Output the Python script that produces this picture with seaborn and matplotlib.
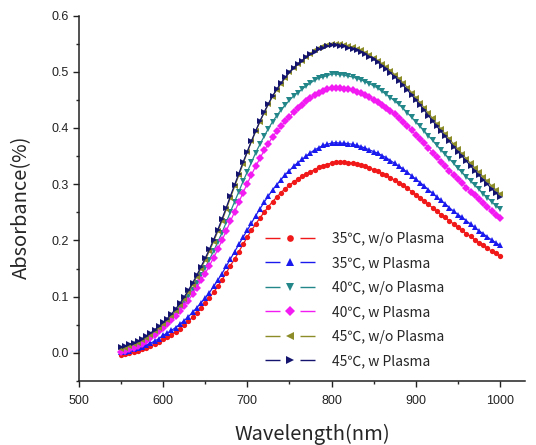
import numpy as np
import pandas as pd
import seaborn as sns
from matplotlib import pyplot as plt
from matplotlib.lines import Line2D
from matplotlib.ticker import MultipleLocator

# wavelength axis (nm), one reading every 5 nm
wavelength = list(range(550, 1001, 5))

abs_35_wo = [
    -0.003, -0.002, 0.000, 0.002, 0.004, 0.006, 0.009, 0.012, 0.015, 0.019,
    0.024, 0.028, 0.032, 0.037, 0.043, 0.050, 0.056, 0.063, 0.071, 0.080,
    0.088, 0.098, 0.108, 0.118, 0.130, 0.142, 0.155, 0.167, 0.180, 0.193,
    0.206, 0.218, 0.229, 0.240, 0.250, 0.260, 0.269, 0.277, 0.285, 0.292,
    0.298, 0.304, 0.309, 0.314, 0.318, 0.322, 0.326, 0.330, 0.333, 0.335,
    0.338, 0.339, 0.339, 0.339, 0.338, 0.338, 0.336, 0.334, 0.332, 0.329,
    0.326, 0.323, 0.319, 0.316, 0.311, 0.307, 0.303, 0.298, 0.293, 0.287,
    0.281, 0.276, 0.270, 0.264, 0.258, 0.252, 0.246, 0.241, 0.235, 0.229,
    0.223, 0.218, 0.212, 0.207, 0.201, 0.196, 0.191, 0.186, 0.181, 0.177,
    0.172]
abs_35_w = [
    0.001, 0.002, 0.004, 0.006, 0.008, 0.011, 0.014, 0.017, 0.021, 0.025,
    0.031, 0.035, 0.040, 0.045, 0.051, 0.057, 0.064, 0.072, 0.080, 0.089,
    0.097, 0.107, 0.118, 0.129, 0.141, 0.154, 0.167, 0.180, 0.193, 0.206,
    0.218, 0.231, 0.244, 0.256, 0.268, 0.279, 0.290, 0.299, 0.308, 0.317,
    0.324, 0.332, 0.338, 0.344, 0.350, 0.356, 0.361, 0.365, 0.369, 0.371,
    0.373, 0.374, 0.373, 0.373, 0.372, 0.371, 0.369, 0.367, 0.364, 0.361,
    0.358, 0.355, 0.351, 0.347, 0.342, 0.337, 0.332, 0.327, 0.321, 0.315,
    0.309, 0.303, 0.297, 0.290, 0.284, 0.277, 0.271, 0.265, 0.258, 0.252,
    0.246, 0.241, 0.235, 0.229, 0.223, 0.217, 0.212, 0.206, 0.201, 0.196,
    0.191]
abs_40_wo = [
    0.004, 0.006, 0.009, 0.012, 0.015, 0.019, 0.024, 0.029, 0.035, 0.041,
    0.049, 0.055, 0.062, 0.070, 0.079, 0.089, 0.100, 0.112, 0.124, 0.138,
    0.151, 0.166, 0.181, 0.197, 0.214, 0.232, 0.251, 0.269, 0.287, 0.305,
    0.322, 0.339, 0.356, 0.371, 0.385, 0.399, 0.411, 0.422, 0.432, 0.441,
    0.449, 0.457, 0.463, 0.469, 0.475, 0.480, 0.485, 0.489, 0.491, 0.493,
    0.496, 0.496, 0.495, 0.494, 0.492, 0.491, 0.488, 0.486, 0.482, 0.479,
    0.475, 0.471, 0.465, 0.460, 0.454, 0.448, 0.442, 0.435, 0.427, 0.419,
    0.411, 0.403, 0.395, 0.386, 0.378, 0.369, 0.361, 0.353, 0.345, 0.337,
    0.328, 0.321, 0.313, 0.306, 0.298, 0.291, 0.283, 0.276, 0.269, 0.262,
    0.255]
abs_40_w = [
    0.001, 0.003, 0.006, 0.009, 0.012, 0.016, 0.021, 0.026, 0.032, 0.038,
    0.045, 0.051, 0.058, 0.066, 0.074, 0.083, 0.093, 0.104, 0.116, 0.129,
    0.141, 0.155, 0.169, 0.184, 0.200, 0.217, 0.234, 0.251, 0.268, 0.285,
    0.301, 0.317, 0.332, 0.346, 0.360, 0.372, 0.384, 0.394, 0.403, 0.412,
    0.420, 0.428, 0.435, 0.441, 0.448, 0.453, 0.458, 0.463, 0.466, 0.469,
    0.472, 0.472, 0.471, 0.470, 0.469, 0.467, 0.464, 0.462, 0.458, 0.455,
    0.450, 0.446, 0.441, 0.436, 0.430, 0.424, 0.418, 0.411, 0.404, 0.396,
    0.388, 0.381, 0.373, 0.364, 0.356, 0.348, 0.340, 0.332, 0.324, 0.317,
    0.309, 0.302, 0.294, 0.287, 0.280, 0.273, 0.266, 0.259, 0.252, 0.246,
    0.239]
abs_45_wo = [
    0.007, 0.009, 0.012, 0.015, 0.018, 0.022, 0.027, 0.032, 0.038, 0.044,
    0.051, 0.058, 0.066, 0.075, 0.085, 0.096, 0.108, 0.121, 0.135, 0.150,
    0.165, 0.181, 0.198, 0.216, 0.235, 0.255, 0.276, 0.296, 0.316, 0.336,
    0.357, 0.376, 0.394, 0.411, 0.427, 0.442, 0.456, 0.468, 0.479, 0.489,
    0.499, 0.507, 0.514, 0.520, 0.527, 0.532, 0.538, 0.542, 0.545, 0.548,
    0.549, 0.550, 0.549, 0.548, 0.546, 0.544, 0.541, 0.538, 0.534, 0.530,
    0.525, 0.520, 0.514, 0.508, 0.502, 0.495, 0.488, 0.480, 0.472, 0.463,
    0.454, 0.445, 0.436, 0.426, 0.417, 0.407, 0.398, 0.389, 0.380, 0.371,
    0.362, 0.354, 0.345, 0.337, 0.329, 0.321, 0.313, 0.305, 0.297, 0.290,
    0.282]
abs_45_w = [
    0.010, 0.012, 0.015, 0.018, 0.021, 0.025, 0.030, 0.035, 0.041, 0.047,
    0.054, 0.061, 0.069, 0.078, 0.088, 0.099, 0.111, 0.124, 0.138, 0.153,
    0.168, 0.184, 0.201, 0.219, 0.238, 0.258, 0.279, 0.299, 0.319, 0.339,
    0.358, 0.377, 0.395, 0.412, 0.428, 0.443, 0.457, 0.469, 0.480, 0.490,
    0.499, 0.507, 0.514, 0.520, 0.526, 0.531, 0.536, 0.540, 0.543, 0.545,
    0.547, 0.547, 0.546, 0.545, 0.543, 0.541, 0.538, 0.535, 0.531, 0.527,
    0.522, 0.517, 0.511, 0.505, 0.498, 0.491, 0.484, 0.476, 0.468, 0.459,
    0.450, 0.441, 0.432, 0.422, 0.413, 0.403, 0.394, 0.385, 0.376, 0.367,
    0.358, 0.350, 0.341, 0.333, 0.324, 0.316, 0.308, 0.300, 0.292, 0.285,
    0.277]

labels = ['35℃, w/o Plasma', '35℃, w Plasma', '40℃, w/o Plasma',
          '40℃, w Plasma', '45℃, w/o Plasma', '45℃, w Plasma']
series = [abs_35_wo, abs_35_w, abs_40_wo, abs_40_w, abs_45_wo, abs_45_w]
colors = ['#f01818', '#1a1aee', '#23878a', '#f21cf2', '#8c8c28', '#14146e']
marks = ['o', '^', 'v', 'D', '<', '>']
msizes = [3.8, 4.6, 4.6, 3.6, 4.6, 4.6]

df = pd.DataFrame({
    'wl': wavelength * len(labels),
    'abs': sum(series, []),
    'sample': np.repeat(labels, len(wavelength)),
})

sns.set_style('ticks')
plt.rcParams['font.family'] = ['Liberation Sans', 'DejaVu Sans']

fig = plt.figure(figsize=(5.36, 4.45), dpi=100)
ax = fig.add_axes([0.147, 0.144, 0.833, 0.821])

for lab, col, mk, ms in zip(labels, colors, marks, msizes):
    sns.lineplot(data=df[df['sample'] == lab], x='wl', y='abs', color=col,
                 marker=mk, markersize=ms, markeredgewidth=0, linewidth=0.9,
                 ax=ax, legend=False)

ax.set_xlim(500, 1030)
ax.set_ylim(-0.05, 0.6)
ax.xaxis.set_major_locator(MultipleLocator(100))
ax.xaxis.set_minor_locator(MultipleLocator(50))
ax.yaxis.set_major_locator(MultipleLocator(0.1))
ax.yaxis.set_minor_locator(MultipleLocator(0.05))
ax.yaxis.set_major_formatter(lambda v, p: f'{v:.1f}')
ax.tick_params(which='major', length=4, width=1, labelsize=9, colors='#222222')
ax.tick_params(axis='x', which='major', pad=6)
ax.tick_params(which='minor', length=2.5, width=1)
sns.despine(ax=ax)
for s in ['left', 'bottom']:
    ax.spines[s].set_linewidth(1.1)
    ax.spines[s].set_color('#222222')

ax.set_xlabel('Wavelength(nm)', fontsize=14.5, family='Noto Sans CJK KR')
ax.set_ylabel('Absorbance(%)', fontsize=14.5, family='Noto Sans CJK KR')
ax.xaxis.set_label_coords(0.522, -0.117)
ax.yaxis.set_label_coords(-0.104, 0.474)

# legend keys drawn as "— marker —", like the reference
handles = [Line2D([], [], color=c, marker=m, markersize=ms + 1, markeredgewidth=0,
                  linewidth=1.0, linestyle=(0, (10.8, 14.4)))
           for c, m, ms in zip(colors, marks, msizes)]
ax.legend(handles, labels, loc='upper left', bbox_to_anchor=(0.39, 0.442),
          frameon=False, handlelength=3.6, labelspacing=0.75, handletextpad=1.2,
          prop={'family': ['Noto Sans CJK KR', 'DejaVu Sans'], 'size': 10})

plt.savefig('out.png', dpi=100)
